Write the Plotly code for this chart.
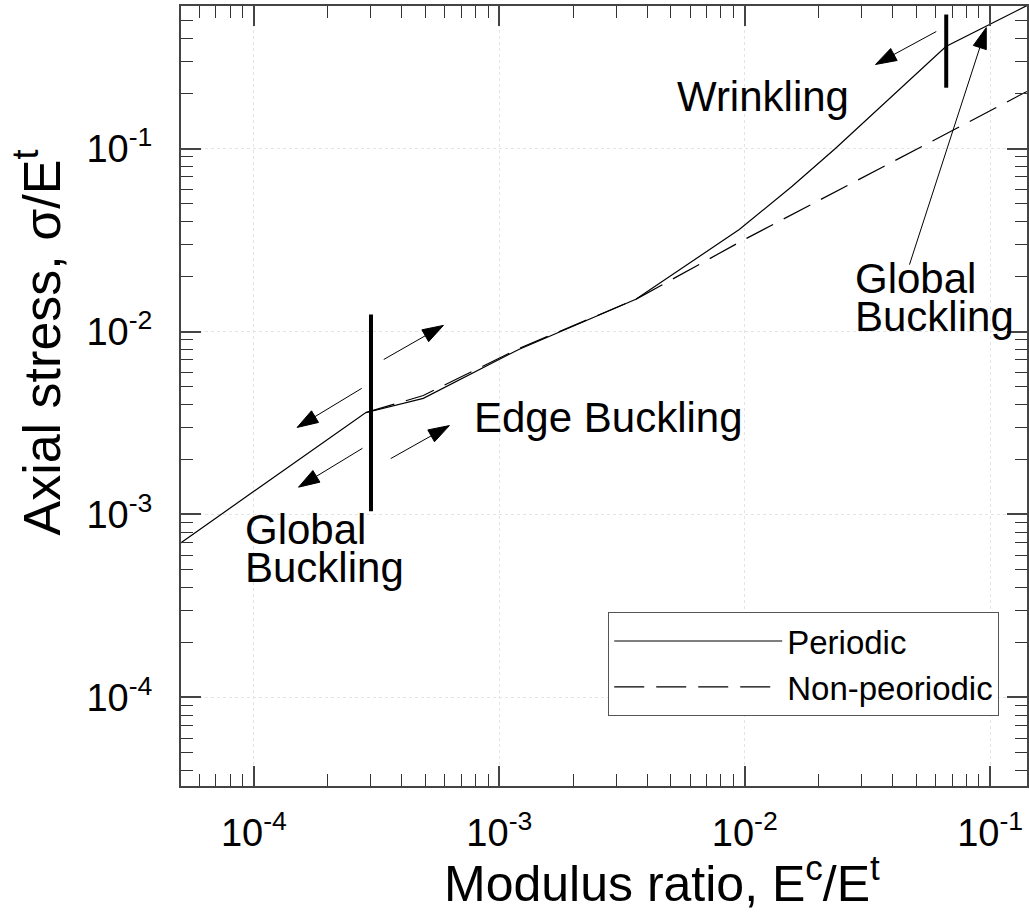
import math
import plotly.graph_objects as go

# ---------------- data ----------------
periodic_x = [5.0e-5, 2.85e-4, 4.9e-4, 1.2e-3, 3.6e-3, 6.9e-3, 9.5e-3, 1.56e-2, 2.34e-2, 6.6e-2, 1.41e-1]
periodic_y = [6.95e-4, 3.6e-3, 4.31e-3, 7.98e-3, 1.50e-2, 2.69e-2, 3.61e-2, 6.22e-2, 1.00e-1, 3.61e-1, 6.04e-1]

nonperiodic_x = [2.85e-4, 4.9e-4, 1.2e-3, 3.6e-3, 1.0e-2, 2.9e-2, 1.41e-1]
nonperiodic_y = [3.6e-3, 4.47e-3, 8.07e-3, 1.50e-2, 3.19e-2, 6.77e-2, 2.05e-1]

# transition markers (thick vertical bars)
bar_x = [3.0e-4, 6.62e-2]
bar_y_low = [1.04e-3, 2.15e-1]
bar_y_high = [1.24e-2, 5.4e-1]

# arrows: tail -> head
arrow_tail_x = [3.38e-4, 2.75e-4, 2.77e-4, 3.61e-4, 6.03e-2, 4.69e-2]
arrow_tail_y = [7.03e-3, 4.89e-3, 2.30e-3, 2.02e-3, 4.36e-1, 2.32e-2]
arrow_head_x = [5.92e-4, 1.50e-4, 1.52e-4, 6.26e-4, 3.41e-2, 9.64e-2]
arrow_head_y = [1.08e-2, 2.99e-3, 1.41e-3, 3.06e-3, 2.88e-1, 4.58e-1]

x_tick_vals = [1e-4, 1e-3, 1e-2, 1e-1]
x_tick_text = ["10<sup>-4</sup>", "10<sup>-3</sup>", "10<sup>-2</sup>", "10<sup>-1</sup>"]
y_tick_vals = [1e-4, 1e-3, 1e-2, 1e-1]
y_tick_text = ["10<sup>-4</sup>", "10<sup>-3</sup>", "10<sup>-2</sup>", "10<sup>-1</sup>"]

FONT = "Liberation Sans, Arial, Helvetica, sans-serif"

minor_vals = [m * 10.0 ** e for e in range(-6, 1) for m in range(2, 10)]

fig = go.Figure()

fig.add_trace(go.Scatter(x=periodic_x, y=periodic_y, mode="lines", name="Periodic",
                         line=dict(color="black", width=1.2)))
fig.add_trace(go.Scatter(x=nonperiodic_x, y=nonperiodic_y, mode="lines", name="Non-peoriodic",
                         line=dict(color="black", width=1.2, dash="30px,12px")))

for bx, lo, hi in zip(bar_x, bar_y_low, bar_y_high):
    fig.add_trace(go.Scatter(x=[bx, bx], y=[lo, hi], mode="lines", showlegend=False,
                             hoverinfo="skip", line=dict(color="black", width=4)))

for tx, ty, hx, hy in zip(arrow_tail_x, arrow_tail_y, arrow_head_x, arrow_head_y):
    fig.add_trace(go.Scatter(x=[tx, hx], y=[ty, hy], mode="lines+markers", showlegend=False,
                             hoverinfo="skip", line=dict(color="black", width=1),
                             marker=dict(symbol=["circle", "arrow"], size=[0, 22],
                                         angleref="previous", color="black", opacity=1,
                                         line=dict(width=1, color="black"))))

L = math.log10
labels = [
    ("Wrinkling", 0.0119, 0.192, "center"),
    ("Global", 0.0277, 0.0196, "left"),
    ("Buckling", 0.0277, 0.0121, "left"),
    ("Edge Buckling", 7.76e-4, 3.39e-3, "left"),
    ("Global", 9.02e-5, 8.3e-4, "left"),
    ("Buckling", 9.02e-5, 5.1e-4, "left"),
]
annotations = []
for txt, x, y, anc in labels:
    annotations.append(dict(text=txt, x=L(x), y=L(y), xref="x", yref="y", xanchor=anc,
                            yanchor="middle", showarrow=False,
                            font=dict(family=FONT, size=42, color="black")))

annotations.append(dict(text="Modulus ratio, E<sup>c</sup>/E<sup>t</sup>", xref="paper", yref="paper",
                        x=0.309, y=-0.121, xanchor="left", yanchor="middle", showarrow=False,
                        font=dict(family=FONT, size=50, color="black")))
annotations.append(dict(text="Axial stress, \u03c3/E<sup>t</sup>", xref="paper", yref="paper",
                        x=-0.1686, y=0.569, xanchor="center", yanchor="middle", showarrow=False,
                        textangle=-90, font=dict(family=FONT, size=52, color="black")))

axis_common = dict(
    type="log", showline=True, linecolor="#444", linewidth=2, mirror="allticks",
    ticks="inside", ticklen=20, tickwidth=1.5, tickcolor="#444",
    showgrid=True, gridcolor="#e4e4e4", griddash="dot", gridwidth=1,
    tickfont=dict(family=FONT, size=38, color="black"),
    tickmode="array",
    minor=dict(ticks="inside", ticklen=12, tickwidth=1.3, tickcolor="#333",
               showgrid=False, tickmode="array", tickvals=minor_vals),
    zeroline=False,
)

fig.update_layout(
    width=1029, height=913,
    margin=dict(l=181, r=0, t=6, b=127),
    paper_bgcolor="white", plot_bgcolor="white",
    font=dict(family=FONT, color="black"),
    xaxis=dict(axis_common, range=[-4.297, -0.850], tickvals=x_tick_vals, ticktext=x_tick_text,
               ticklabelstandoff=12),
    yaxis=dict(axis_common, range=[-4.484, -0.221], tickvals=y_tick_vals, ticktext=y_tick_text,
               ticklabelstandoff=19),
    legend=dict(x=0.505, y=0.223, xanchor="left", yanchor="top",
                bgcolor="white", bordercolor="#555", borderwidth=1,
                font=dict(family=FONT, size=33, color="black"),
                itemwidth=168, tracegroupgap=0),
    annotations=annotations,
    showlegend=True,
)

fig.write_html("out.html")
